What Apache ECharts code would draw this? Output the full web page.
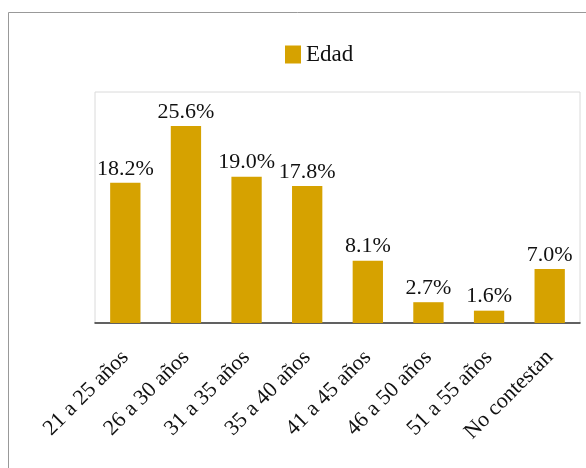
<!DOCTYPE html>
<html>
<head>
<meta charset="utf-8">
<style>
  html, body { margin: 0; padding: 0; background: #fff; }
  #chart { width: 586px; height: 468px; }
</style>
<script src="https://cdn.jsdelivr.net/npm/echarts@6/dist/echarts.min.js"></script>
</head>
<body>
<div id="chart"></div>
<script>
// Age distribution of respondents (percent)
const categories = ['21 a 25 años', '26 a 30 años', '31 a 35 años', '35 a 40 años',
                    '41 a 45 años', '46 a 50 años', '51 a 55 años', 'No contestan'];
const edadValues = [18.2, 25.6, 19.0, 17.8, 8.1, 2.7, 1.6, 7.0];
const seriesName = 'Edad';

const serif = '"Liberation Serif", "DejaVu Serif", serif';
const barColor = '#D6A200';

const chart = echarts.init(document.getElementById('chart'));
chart.setOption({
  animation: false,
  backgroundColor: '#fff',
  graphic: [{
    type: 'rect',
    shape: { x: 8.5, y: 12.5, width: 600, height: 500 },
    style: { fill: 'none', stroke: '#999', lineWidth: 1 },
    silent: true
  }],
  legend: {
    top: 38,
    left: 280,
    itemWidth: 16,
    itemHeight: 18,
    itemGap: 4,
    icon: 'rect',
    textStyle: { fontFamily: serif, fontSize: 23, color: '#111' },
    data: [seriesName]
  },
  grid: {
    left: 95, right: 6, top: 92, bottom: 145, containLabel: false,
    show: true, borderColor: '#dadada', borderWidth: 1
  },
  xAxis: {
    type: 'category',
    data: categories,
    axisLine: { lineStyle: { color: '#333', width: 1.5 } },
    axisTick: { show: false },
    axisLabel: {
      rotate: 45,
      interval: 0,
      margin: 31,
      fontFamily: serif,
      fontSize: 22,
      color: '#111'
    }
  },
  yAxis: {
    type: 'value',
    min: 0,
    max: 30,
    show: false
  },
  series: [{
    name: seriesName,
    type: 'bar',
    data: edadValues,
    barWidth: '50%',
    itemStyle: { color: barColor },
    label: {
      show: true,
      position: 'top',
      distance: 3,
      fontFamily: serif,
      fontSize: 22,
      color: '#111',
      formatter: p => p.value.toFixed(1) + '%'
    }
  }]
});
</script>
</body>
</html>
